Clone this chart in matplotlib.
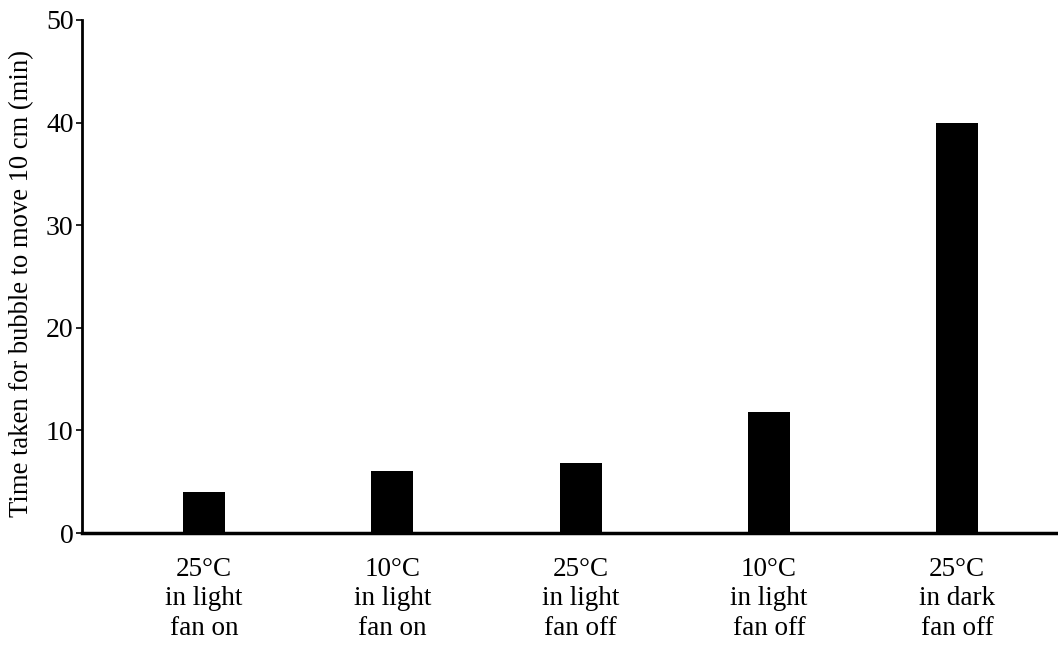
import matplotlib.pyplot as plt

conditions = ["25°C\nin light\nfan on", "10°C\nin light\nfan on",
              "25°C\nin light\nfan off", "10°C\nin light\nfan off",
              "25°C\nin dark\nfan off"]
times = [4.0, 6.0, 6.8, 11.8, 40.0]
y_ticks = [0, 10, 20, 30, 40, 50]

font = 'Liberation Serif'
fig = plt.figure(figsize=(10.58, 6.45), dpi=100)
ax = fig.add_axes([0.0775, 0.1736, 0.9225, 0.7954])

pos = list(range(len(times)))
ax.bar(pos, times, width=0.223, color='black')

ax.set_xlim(-0.647, 4.535)
ax.set_ylim(0, 50)
ax.set_yticks(y_ticks)
ax.set_yticklabels([str(t) for t in y_ticks], family=font, size=20)
ax.set_xticks(pos)
ax.set_xticklabels(conditions, family=font, size=19.5, linespacing=1.25)
ax.tick_params(axis='x', length=0, pad=17)
ax.tick_params(axis='y', length=4, width=1.2, pad=2, direction='out')

ax.spines['top'].set_visible(False)
ax.spines['right'].set_visible(False)
ax.spines['left'].set_linewidth(2)
ax.spines['bottom'].set_linewidth(2.5)

ax.set_ylabel("Time taken for bubble to move 10 cm (min)", family=font, size=19.2)
ax.yaxis.set_label_coords(-0.0495, 0.487)

fig.savefig("out.png", dpi=100)
